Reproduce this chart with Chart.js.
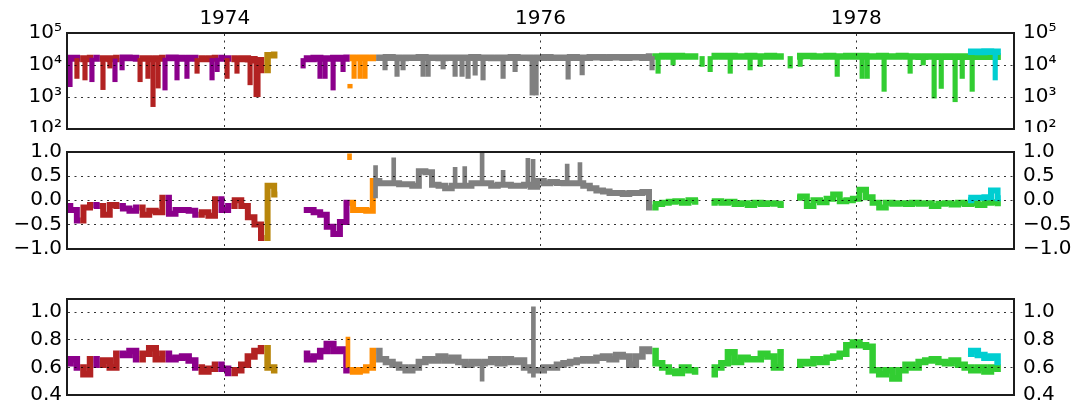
<!DOCTYPE html>
<html>
<head>
<meta charset="utf-8">
<script src="https://cdn.jsdelivr.net/npm/chart.js@4.4.1/dist/chart.umd.min.js"></script>
<style>
  html, body { margin: 0; padding: 0; background: #fff; }
  body { width: 1084px; height: 406px; position: relative; overflow: hidden; }
  canvas { position: absolute; left: 0; }
</style>
</head>
<body>
<canvas id="top" width="1084" height="132" style="top:0px"></canvas>
<canvas id="mid" width="1084" height="126" style="top:136px"></canvas>
<canvas id="bot" width="1084" height="126" style="top:280px"></canvas>
<script>
// time grid: half-month steps starting 1973.0
const t0 = 1973, dt = 1 / 24;

const xTicks = [1974, 1976, 1978];
const topTicks = [100, 1000, 10000, 100000];
const topTickLabels = ['10²', '10³', '10⁴', '10⁵'];
const midTicks = [-1, -0.5, 0, 0.5, 1];
const midTickLabels = ['−1.0', '−0.5', '0.0', '0.5', '1.0'];
const botTicks = [0.4, 0.6, 0.8, 1.0];
const botTickLabels = ['0.4', '0.6', '0.8', '1.0'];

// which instrument is active over which grid indices
const runs = [
  ['P', 0, 1], ['R', 2, 3], ['P', 4, 4], ['R', 5, 7], ['P', 8, 10], ['R', 11, 14],
  ['P', 15, 19], ['R', 20, 22], ['P', 23, 24], ['R', 25, 29], ['D', 30, 32],
  ['P', 36, 42], ['O', 43, 46], ['Y', 47, 88], ['L', 89, 96], ['L', 98, 109], ['L', 111, 142]
];
const cyanFirst = 137;

const colors = { P: '#8b008b', R: '#b22222', D: '#b8860b', O: '#ff8c00', Y: '#808080', L: '#32cd32', C: '#00ced1' };

// top panel: typical level per grid index
const topLevel = [
  16000, 16500, 16000, 15500, 16500, 16000, 16000, 15500, 16500, 17000, 16500, 16000,
  16000, 15500, 16000, 16500, 17000, 16500, 16000, 16500, 16000, 15500, 16000, 16500,
  16000, 16000, 15500, 16000, 15000, 14000, 7000, 20000, 21000, null, null, null,
  16000, 15500, 16500, 16000, 16000, 16500, 16000, 17000, 16500, 17000, 16500, 17000,
  17000, 17500, 17000, 16500, 17000, 17000, 17500, 17000, 17000, 16500, 17000, 17000,
  17000, 17000, 17500, 17000, 17000, 16500, 17000, 17000, 17500, 17000, 17000, 16500,
  17000, 17500, 17000, 17000, 17000, 17500, 17000, 17000, 17500, 17500, 17000, 17500,
  17500, 17000, 17500, 17500, 17000, 18500, 18500, 19000, 18500, 19000, 18500, 18500,
  18500, null, 18500, 19000, 18500, 19000, 18500, 18500, 19000, 18500, 18500, 19000,
  18500, 18500, null, 18500, 19000, 19000, 18500, 18500, 19000, 18500, 18500, 19000,
  18500, 19000, 18500, 18500, 19000, 18500, 18500, 19000, 18500, 18500, 18000, 18500,
  18500, 18000, 18500, 18000, 18500, 18000, 18500, 18000, 18500, 18000, 18500
];
// top panel: short drops [year, low value, instrument]
const topDips = [
  [1973.019, 2100, 'P'], [1973.063, 3800, 'R'], [1973.114, 3400, 'R'], [1973.158, 3000, 'P'],
  [1973.228, 1700, 'R'], [1973.272, 8000, 'R'], [1973.304, 3000, 'P'], [1973.349, 7000, 'P'],
  [1973.463, 3000, 'R'], [1973.513, 3800, 'R'], [1973.545, 500, 'R'], [1973.577, 1900, 'R'],
  [1973.621, 1650, 'P'], [1973.697, 3400, 'P'], [1973.760, 3800, 'P'], [1973.824, 5500, 'R'],
  [1973.919, 3400, 'P'], [1973.951, 6200, 'P'], [1974.014, 3800, 'R'], [1974.077, 5500, 'R'],
  [1974.160, 2400, 'R'], [1974.198, 1020, 'R'], [1974.210, 1020, 'R'],
  [1974.496, 8000, 'P'], [1974.603, 3800, 'P'], [1974.635, 3800, 'P'], [1974.686, 1650, 'P'],
  [1974.749, 6200, 'P'], [1974.819, 3800, 'O'], [1974.857, 3800, 'O'], [1974.888, 3800, 'O'],
  [1975.015, 7000, 'Y'], [1975.091, 4400, 'Y'], [1975.129, 7000, 'Y'], [1975.256, 4400, 'Y'],
  [1975.288, 4400, 'Y'], [1975.383, 7500, 'Y'], [1975.459, 4400, 'Y'], [1975.503, 4400, 'Y'],
  [1975.541, 3800, 'Y'], [1975.586, 4800, 'Y'], [1975.636, 3400, 'Y'], [1975.763, 3800, 'Y'],
  [1975.839, 6200, 'Y'], [1975.947, 1150, 'Y'], [1975.972, 1150, 'Y'], [1976.175, 3600, 'Y'],
  [1976.264, 4900, 'Y'], [1976.707, 7000, 'Y'],
  [1976.745, 5500, 'L'], [1976.840, 10000, 'L'], [1977.024, 9000, 'L'], [1977.075, 6200, 'L'],
  [1977.202, 5500, 'L'], [1977.328, 7000, 'L'], [1977.392, 9000, 'L'], [1977.582, 8000, 'L'],
  [1977.645, 9000, 'L'], [1977.880, 4400, 'L'], [1978.038, 3800, 'L'], [1978.070, 3800, 'L'],
  [1978.177, 1500, 'L'], [1978.342, 5500, 'L'], [1978.425, 10000, 'L'], [1978.494, 920, 'L'],
  [1978.539, 1850, 'L'], [1978.627, 710, 'L'], [1978.672, 3800, 'L'], [1978.735, 1500, 'L'],
  [1978.881, 3400, 'C']
];
// short spikes and stray readings [year, low, high, instrument]
const topDots = [[1974.793, 1900, 2500, 'O']];
const midSpikes = [
  [1974.790, 0.84, 0.96, 'O'], [1974.955, 0.05, 0.72, 'Y'], [1975.070, 0.35, 0.88, 'Y'],
  [1975.459, 0.30, 0.68, 'Y'], [1975.520, 0.30, 0.70, 'Y'], [1975.630, 0.35, 0.97, 'Y'],
  [1975.763, 0.32, 0.62, 'Y'], [1975.920, 0.32, 0.87, 'Y'], [1975.953, 0.30, 0.85, 'Y'],
  [1976.169, 0.35, 0.75, 'Y'], [1976.250, 0.35, 0.78, 'Y']
];
const botSpikes = [
  [1974.780, 0.60, 0.82, 'O'], [1975.630, 0.50, 0.64, 'Y'], [1975.955, 0.53, 1.04, 'Y']
];

const midVals = [
  -0.12, -0.2, -0.42, -0.15, -0.1, -0.12, -0.3, -0.1, -0.12, -0.17, -0.22, -0.15,
  -0.3, -0.22, -0.25, 0.05, -0.28, -0.2, -0.2, -0.22, -0.3, -0.25, -0.32, 0.02,
  -0.2, -0.12, 0.0, -0.12, -0.35, -0.5, -0.78, 0.3, 0.12, null, null, null,
  -0.2, -0.2, -0.25, -0.3, -0.55, -0.7, -0.45, -0.05, -0.2, -0.2, -0.22, 0.4,
  0.35, 0.35, 0.35, 0.33, 0.33, 0.3, 0.6, 0.58, 0.32, 0.3, 0.25, 0.3,
  0.3, 0.3, 0.35, 0.35, 0.35, 0.3, 0.32, 0.32, 0.3, 0.3, 0.32, 0.28,
  0.4, 0.35, 0.38, 0.36, 0.35, 0.35, 0.35, 0.3, 0.25, 0.2, 0.18, 0.15,
  0.15, 0.13, 0.15, 0.15, 0.17, -0.15, -0.08, -0.05, -0.03, -0.02, -0.05, 0.0,
  -0.03, null, -0.05, -0.02, -0.05, -0.03, -0.08, -0.06, -0.1, -0.05, -0.08, -0.06,
  -0.07, -0.1, null, 0.05, 0.08, -0.12, 0.0, -0.04, 0.03, 0.12, -0.02, 0.0,
  0.03, 0.22, 0.06, -0.05, -0.15, -0.05, -0.07, -0.06, -0.08, -0.05, -0.07, -0.06,
  -0.12, -0.07, -0.06, -0.09, -0.05, -0.08, -0.06, -0.1, -0.05, -0.04, -0.06
];

const botVals = [
  0.63, 0.66, 0.6, 0.55, 0.66, 0.62, 0.65, 0.6, 0.7, 0.69, 0.72, 0.66,
  0.7, 0.74, 0.66, 0.7, 0.66, 0.67, 0.68, 0.65, 0.6, 0.57, 0.59, 0.62,
  0.59, 0.56, 0.58, 0.62, 0.68, 0.72, 0.74, 0.6, 0.58, null, null, null,
  0.7, 0.66, 0.68, 0.72, 0.77, 0.72, 0.73, 0.58, 0.57, 0.58, 0.6, 0.72,
  0.66, 0.64, 0.62, 0.6, 0.58, 0.6, 0.64, 0.66, 0.65, 0.68, 0.65, 0.67,
  0.64, 0.62, 0.64, 0.63, 0.64, 0.66, 0.63, 0.66, 0.64, 0.65, 0.6, 0.58,
  0.58, 0.6, 0.6, 0.62, 0.63, 0.64, 0.65, 0.66, 0.65, 0.67, 0.68, 0.66,
  0.69, 0.68, 0.62, 0.68, 0.73, 0.72, 0.63, 0.6, 0.57, 0.56, 0.6, 0.58,
  0.57, null, 0.55, 0.6, 0.63, 0.71, 0.64, 0.67, 0.66, 0.66, 0.7, 0.68,
  0.6, 0.71, null, 0.62, 0.64, 0.63, 0.66, 0.64, 0.67, 0.68, 0.7, 0.76,
  0.78, 0.76, 0.75, 0.58, 0.55, 0.58, 0.52, 0.58, 0.62, 0.6, 0.64, 0.65,
  0.66, 0.64, 0.63, 0.65, 0.62, 0.6, 0.58, 0.6, 0.57, 0.6, 0.59
];

// the cyan instrument overlaps the green one at the end
const cyanTop = [26000, 26000, 25500, 26500, 26000, 26000];
const cyanMid = [0.0, 0.05, 0.05, 0.06, 0.2, 0.04];
const cyanBot = [0.7, 0.72, 0.69, 0.67, 0.68, 0.64];

Chart.defaults.font.family = 'DejaVu Sans';
Chart.defaults.font.size = 20;
Chart.defaults.color = '#000';

function idx(t) { return Math.round((t - t0) / dt); }

function baseAt(t, c) {
  if (c === 'C') {
    const k = Math.min(cyanTop.length - 1, Math.max(0, idx(t) - cyanFirst));
    return cyanTop[k];
  }
  const i = idx(t);
  for (let d = 0; d < 4; d++) {
    if (topLevel[i - d] != null) return topLevel[i - d];
    if (topLevel[i + d] != null) return topLevel[i + d];
  }
  return null;
}

function line(pts, color, width) {
  return {
    type: 'line', data: pts, borderColor: color, borderWidth: width,
    pointRadius: 0, stepped: 'middle', fill: false, tension: 0,
    borderCapStyle: 'butt', borderJoinStyle: 'miter'
  };
}

function lineSets(vals, cyanVals, width) {
  const sets = [];
  runs.forEach((r, k) => {
    const next = runs[k + 1];
    const end = next && next[1] === r[2] + 1 ? r[2] + 1 : r[2];
    const pts = [];
    for (let i = r[1]; i <= end; i++) pts.push({ x: t0 + i * dt, y: vals[i] });
    sets.push(line(pts, colors[r[0]], width));
  });
  const cp = cyanVals.map((v, k) => ({ x: t0 + (cyanFirst + k) * dt, y: v }));
  sets.push(line(cp, colors.C, width));
  return sets;
}

function barSets(items, thick) {
  const groups = {};
  items.forEach(([t, lo, hi, c]) => {
    (groups[c] = groups[c] || []).push({ x: t, y: [lo, hi] });
  });
  return Object.keys(groups).map(c => ({
    type: 'bar', data: groups[c], backgroundColor: colors[c],
    borderWidth: 0, barThickness: thick, grouped: false
  }));
}

function noPad(s) { s.paddingTop = 0; s.paddingBottom = 0; s.paddingLeft = 0; s.paddingRight = 0; }

function makeChart(id, o) {
  const datasets = o.datasets;
  datasets.forEach((d, i) => { d.order = datasets.length - i; });
  const grid = { color: 'rgba(0,0,0,0.8)', lineWidth: 1, drawTicks: false, offset: false, z: 1 };
  const border = { color: '#1c1c1c', width: 2, dash: [2, 4.5], z: 2 };
  const yBase = {
    type: o.type, min: o.min, max: o.max, beginAtZero: false,
    afterBuildTicks: s => { s.ticks = o.ticks.map(v => ({ value: v })); },
    border
  };
  new Chart(document.getElementById(id), {
    type: 'line',
    data: { datasets },
    options: {
      responsive: false, animation: false, devicePixelRatio: 1, events: [],
      layout: { padding: 0, autoPadding: false },
      plugins: { legend: { display: false }, tooltip: { enabled: false } },
      scales: {
        x: {
          type: 'linear', position: 'top', min: 1973, max: 1979, offset: false,
          afterBuildTicks: s => { s.ticks = xTicks.map(v => ({ value: v })); },
          ticks: { display: o.xLabels, padding: 2, maxRotation: 0, autoSkip: false, callback: v => String(v) },
          grid, border,
          afterFit: s => { s.height = o.areaTop; noPad(s); }
        },
        x2: {
          type: 'linear', position: 'bottom', min: 1973, max: 1979, offset: false,
          ticks: { display: false }, grid: { display: false, drawTicks: false }, border,
          afterFit: s => { s.height = o.h - o.areaBottom; noPad(s); }
        },
        y: Object.assign({}, yBase, {
          position: 'left',
          ticks: { padding: 5, autoSkip: false, callback: (v, i) => o.labels[i] },
          grid,
          afterFit: s => { s.width = 67; noPad(s); }
        }),
        y2: Object.assign({}, yBase, {
          position: 'right',
          ticks: { padding: 9, autoSkip: false, callback: (v, i) => o.labels[i] },
          grid: { drawOnChartArea: false, drawTicks: false },
          afterFit: s => { s.width = 1084 - 1014; noPad(s); }
        })
      }
    }
  });
}

const topBars = topDips.map(([t, v, c]) => [t, v, baseAt(t, c), c]).concat(topDots);

makeChart('top', {
  type: 'logarithmic', min: 100, max: 100000, ticks: topTicks, labels: topTickLabels,
  xLabels: true, h: 132, areaTop: 33, areaBottom: 129,
  datasets: lineSets(topLevel, cyanTop, 6.5).concat(barSets(topBars, 4.5))
});
makeChart('mid', {
  type: 'linear', min: -1, max: 1, ticks: midTicks, labels: midTickLabels,
  xLabels: false, h: 126, areaTop: 16, areaBottom: 112.5,
  datasets: lineSets(midVals, cyanMid, 6).concat(barSets(midSpikes, 4))
});
makeChart('bot', {
  type: 'linear', min: 0.4, max: 1.1, ticks: botTicks, labels: botTickLabels,
  xLabels: false, h: 126, areaTop: 18.5, areaBottom: 115,
  datasets: lineSets(botVals, cyanBot, 6.5).concat(barSets(botSpikes, 4))
});
</script>
</body>
</html>
